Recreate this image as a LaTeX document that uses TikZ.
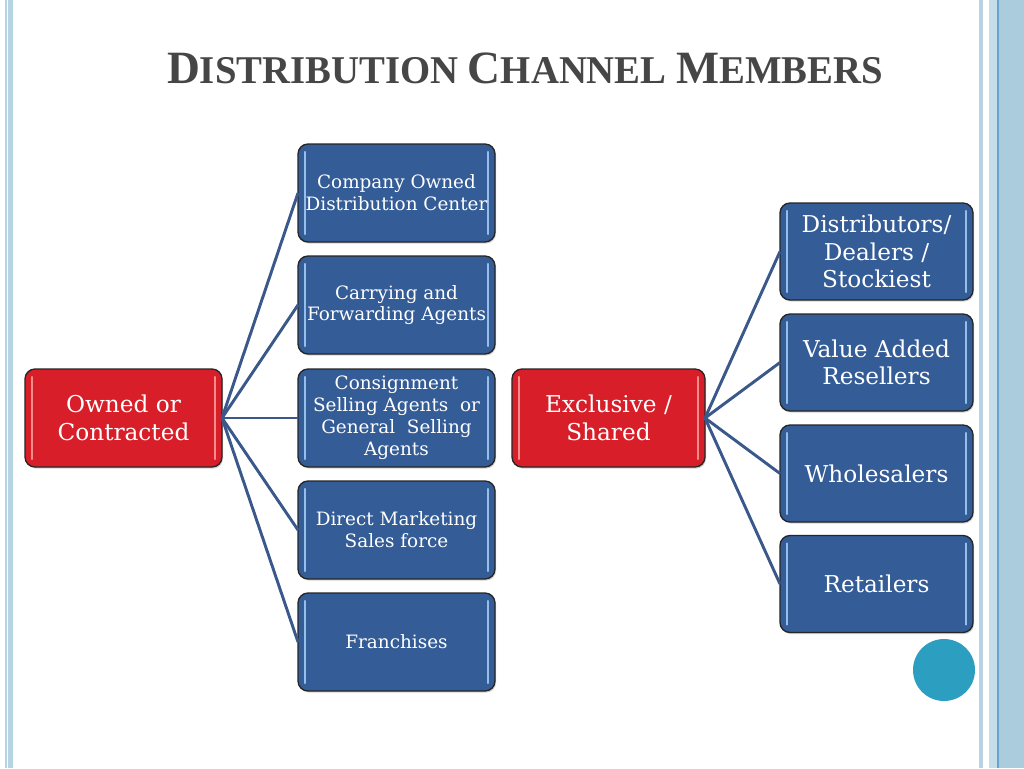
\documentclass[tikz,border=0pt]{standalone}
\usepackage{fontspec}
\setmainfont{DejaVu Serif}
\newfontfamily\titlefont{Liberation Serif}
\usetikzlibrary{shadows}
\definecolor{boxblue}{RGB}{52,92,150}
\definecolor{boxred}{RGB}{216,30,40}
\definecolor{hlblue}{RGB}{150,190,235}
\definecolor{hlred}{RGB}{245,140,140}
\definecolor{linkblue}{RGB}{58,88,138}
\definecolor{titlegray}{RGB}{70,70,70}
\definecolor{edgeblue}{RGB}{182,212,228}
\definecolor{edgelight}{RGB}{196,222,236}
\definecolor{edgemid}{RGB}{170,204,220}
\definecolor{edgedark}{RGB}{107,162,198}
\definecolor{dotblue}{RGB}{44,158,192}
\tikzset{
  every node/.style={inner sep=0pt, outer sep=0pt},
  card/.style={draw=black!85, line width=1pt, rounded corners=7.5pt,
    text=white, align=center,
    drop shadow={shadow xshift=0.8pt, shadow yshift=-1.2pt, opacity=0.35},
    path picture={
      \draw[#1, line width=1.6pt, line cap=round]
        ([shift={(5pt,-6pt)}]path picture bounding box.north west) --
        ([shift={(5pt,6pt)}]path picture bounding box.south west);
      \draw[#1, line width=1.6pt, line cap=round]
        ([shift={(-5pt,-6pt)}]path picture bounding box.north east) --
        ([shift={(-5pt,6pt)}]path picture bounding box.south east);
    }},
  midbox/.style={card=hlblue, fill=boxblue, minimum width=147.75pt, minimum height=73.5pt,
    font=\fontsize{13.8}{16.4}\selectfont},
  rightbox/.style={card=hlblue, fill=boxblue, minimum width=144.75pt, minimum height=72.75pt,
    font=\fontsize{17.4}{20.6}\selectfont},
  redbox/.style={card=hlred, fill=boxred, minimum height=73.5pt,
    font=\fontsize{17.4}{20.6}\selectfont},
  link/.style={draw=linkblue, line width=2.2pt},
}
\newcommand{\tbig}[1]{{\fontsize{34.7}{34.7}\selectfont #1}}
\newcommand{\tsml}[1]{{\fontsize{29.5}{29.5}\selectfont #1}}
\begin{document}
\begin{tikzpicture}[x=0.75pt,y=-0.75pt]
\useasboundingbox (0,0) rectangle (1024,768);
\fill[white] (0,0) rectangle (1024,768);
% side decorations
\fill[edgeblue] (5,0) rectangle (6.5,768);
\fill[edgeblue] (8,0) rectangle (12.5,768);
\fill[edgeblue] (979,0) rectangle (983,768);
\fill[edgelight] (989,0) rectangle (997,768);
\fill[edgemid] (999,0) rectangle (1024,768);
\fill[edgedark] (997,0) rectangle (999,768);
% title
\node[text=titlegray, anchor=base] (title) at (525,83.5)
  {\titlefont\bfseries\scalebox{0.985}[1]{\tbig{D}\tsml{ISTRIBUTION\ }\tbig{C}\tsml{HANNEL\ }\tbig{M}\tsml{EMBERS}}};
% left group
\node[redbox, minimum width=147.75pt] (own) at (123.5,418) {Owned or\\Contracted};
\node[midbox] (m1) at (396.5,193) {Company Owned\\Distribution Center};
\node[midbox] (m2) at (396.5,305) {Carrying and\\Forwarding Agents};
\node[midbox] (m3) at (396.5,418) {Consignment\\Selling Agents\ \ or\\General\ \ Selling\\Agents};
\node[midbox] (m4) at (396.5,530) {Direct Marketing\\Sales force};
\node[midbox] (m5) at (396.5,642) {Franchises};
% right group
\node[redbox, minimum width=144.75pt] (exc) at (608.5,418) {Exclusive /\\Shared};
\node[rightbox] (r1) at (876.5,251.5) {Distributors/\\Dealers /\\Stockiest};
\node[rightbox] (r2) at (876.5,362.5) {Value Added\\Resellers};
\node[rightbox] (r3) at (876.5,473.5) {Wholesalers};
\node[rightbox] (r4) at (876.5,584) {Retailers};
% connectors
\foreach \t in {m1,m2,m3,m4,m5} \draw[link] (own.east) -- (\t.west);
\foreach \t in {r1,r2,r3,r4} \draw[link] (exc.east) -- (\t.west);
% decorative dot
\fill[dotblue] (944,670) circle (31);
\end{tikzpicture}
\end{document}
